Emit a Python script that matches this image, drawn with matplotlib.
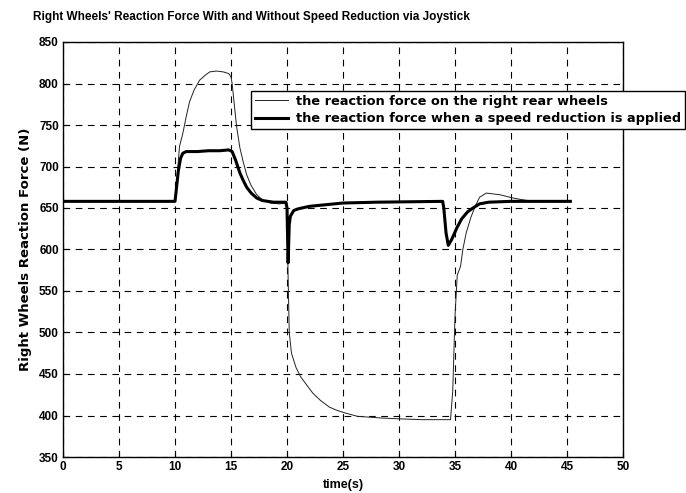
import matplotlib
matplotlib.use("Agg")
import matplotlib.pyplot as plt

# reaction force on the right rear wheels (no speed reduction)
t_plain = [0, 10.0, 10.2, 10.4, 10.7, 11.0, 11.3, 11.7, 12.2, 12.7, 13.1, 13.7, 14.3, 14.8,
           15.0, 15.1, 15.5, 15.8, 16.1, 16.4, 16.8, 17.3, 17.8, 18.5, 19.3, 20.0,
           20.05, 20.2, 20.4, 20.8, 21.2, 21.8, 22.3, 23.0, 23.8, 24.5, 25.2, 26.3, 28.4,
           30.0, 32.0, 34.6, 34.8, 35.0, 35.2, 35.5, 35.7, 36.0, 36.4, 36.8, 37.2, 37.8,
           39.0, 40.2, 41.0, 42.0, 45.3]
f_plain = [658, 658, 690, 724, 740, 760, 778, 792, 804, 810, 814, 815, 814, 812,
           808, 800, 748, 722, 705, 690, 677, 666, 660, 656, 655, 656,
           600, 500, 475, 458, 447, 436, 427, 418, 410, 406, 403, 399, 397,
           396, 395, 395, 430, 520, 569, 580, 600, 620, 638, 652, 663, 668,
           666, 662, 660, 658, 658]

# reaction force when a speed reduction is applied
t_reduced = [0, 10.0, 10.1, 10.3, 10.5, 10.7, 11.0, 12.0, 13.0, 14.0, 14.8, 15.1,
             15.4, 15.8, 16.1, 16.4, 16.8, 17.3, 17.8, 18.8, 19.9, 20.0, 20.1, 20.2,
             20.3, 20.6, 21.0, 22.0, 23.5, 25.0, 28.0, 33.9, 34.0, 34.2, 34.4, 34.7,
             35.2, 35.6, 36.1, 36.6, 37.2, 38.0, 40.0, 45.3]
f_reduced = [658, 658, 670, 695, 710, 716, 718, 718, 719, 719, 720, 718,
             708, 692, 683, 675, 668, 662, 659, 657, 657, 650, 584, 630,
             640, 647, 649, 652, 654, 656, 657, 658, 650, 620, 605, 612,
             627, 637, 645, 650, 655, 657, 658, 658]

x_ticks = list(range(0, 51, 5))
y_ticks = list(range(350, 851, 50))

plt.rcParams['font.family'] = ['Liberation Sans', 'DejaVu Sans']
plt.rcParams['font.weight'] = 'bold'

fig = plt.figure(figsize=(6.86, 4.93), dpi=100)
ax = fig.add_axes([63 / 686, 1 - 457 / 493, 560 / 686, 415 / 493])

ax.plot(t_plain, f_plain, color='#222222', lw=0.7,
        label='the reaction force on the right rear wheels')
ax.plot(t_reduced, f_reduced, color='black', lw=2.2,
        label='the reaction force when a speed reduction is applied')

ax.set_xlim(0, 50)
ax.set_ylim(350, 850)
ax.set_xticks(x_ticks)
ax.set_yticks(y_ticks)
ax.tick_params(direction='in', length=4, labelsize=8.5, pad=3, width=0.8)
for lab in ax.get_xticklabels() + ax.get_yticklabels():
    lab.set_fontweight('bold')
ax.grid(True, color='black', linestyle=(0, (6, 5)), linewidth=0.8)
for sp in ax.spines.values():
    sp.set_linewidth(1.0)

ax.set_xlabel('time(s)', fontsize=9, fontweight='bold', labelpad=4)
ax.set_ylabel('Right Wheels Reaction Force (N)', fontsize=9.5, fontweight='bold',
              labelpad=5, family='DejaVu Sans')

fig.text(33 / 686, 1 - 17 / 493,
         "Right Wheels' Reaction Force With and Without Speed Reduction via Joystick",
         fontsize=8.5, fontweight='bold', va='center', ha='left')

leg = fig.legend(loc='upper left', bbox_to_anchor=(251 / 686, 1 - 91 / 493),
                 frameon=True, fancybox=False, edgecolor='black', framealpha=1,
                 prop={'size': 9.3, 'weight': 'bold', 'family': 'DejaVu Sans'},
                 handlelength=2.6, borderpad=0.3, labelspacing=0.35,
                 handletextpad=0.6, borderaxespad=0)
leg.get_frame().set_linewidth(1.0)

fig.savefig('out.png', dpi=100)
